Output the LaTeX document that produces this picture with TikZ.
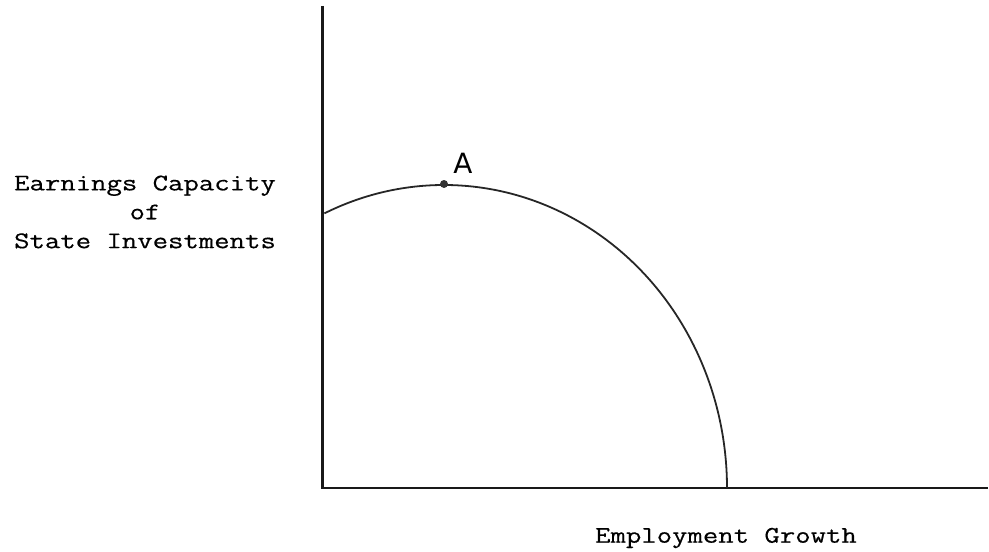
\documentclass[tikz,border=0pt]{standalone}
\usepackage{fontspec}
\newfontfamily\twfont[FakeBold=0.4]{Latin Modern Mono}
\newfontfamily\handfont{DejaVu Sans}
\newcommand{\tw}[1]{\scalebox{1.25}[1]{#1}}
\tikzset{
  axisline/.style={line width=2.3pt, black!90},
  curveline/.style={line width=1.8pt, black!85},
  lbl/.style={font=\twfont\fontsize{24}{29}\selectfont, align=center, inner sep=0pt},
  ptdot/.style={circle, fill=black!80, inner sep=0pt, minimum size=8pt},
}
\begin{document}
\begin{tikzpicture}[x=1bp,y=1bp]
  \useasboundingbox (0,0) rectangle (989,552);
  \coordinate (O) at (322.5,64);
  \coordinate (Ytop) at (322.5,546);
  \coordinate (Xend) at (988,64);
  \draw[axisline] (Ytop) -- (O) -- (Xend);
  \draw[curveline] (727,64) arc[start angle=0, end angle=115, x radius=283, y radius=303];
  \node[ptdot] (A) at (444,368) {};
  \node[font=\handfont\fontsize{28}{30}\selectfont, inner sep=0pt] (Alab) at (463,389) {A};
  \node[lbl] (ylab) at (145,340) {\tw{Earnings Capacity}\\\tw{of}\\\tw{State Investments}};
  \node[lbl] (xlab) at (726,14) {\tw{Employment Growth}};
\end{tikzpicture}
\end{document}
